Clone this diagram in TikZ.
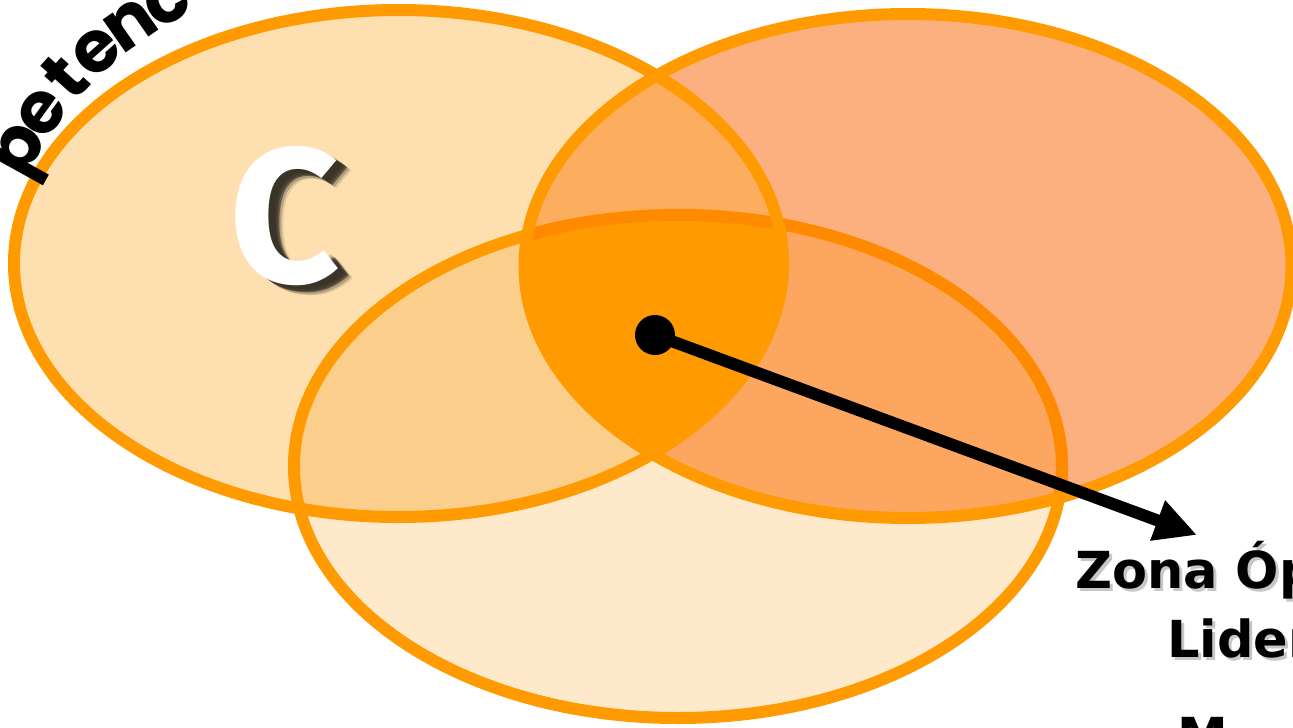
\documentclass[tikz,border=0pt]{standalone}
\usepackage{fontspec}
\usetikzlibrary{arrows.meta}
\newfontfamily\cfont{Fira Sans}
\newfontfamily\lblfont{DejaVu Sans}
\newfontfamily\arcfont{Poppins}
\definecolor{colL}{HTML}{FDDFB0}
\definecolor{colR}{HTML}{FDB07F}
\definecolor{colB}{HTML}{FEE9CB}
\definecolor{colLR}{HTML}{FCAD5E}
\definecolor{colLB}{HTML}{FCCE8C}
\definecolor{colRB}{HTML}{FCA660}
\definecolor{colC}{HTML}{FF9B00}
\definecolor{edge}{HTML}{FF9B00}
\definecolor{edgeDark}{HTML}{FF8A00}
\tikzset{
  ring/.style={draw=edge, line width=12pt},
  lbl/.style={font=\lblfont\bfseries\fontsize{51}{60}\selectfont, inner sep=0pt, anchor=base west},
  arcletter/.style={font=\arcfont\bfseries\fontsize{72}{72}\selectfont, inner sep=0pt, anchor=base},
  bigletter/.style={font=\cfont\bfseries\fontsize{192}{192}\selectfont, inner sep=0pt},
}
\begin{document}
\begin{tikzpicture}[x=1pt,y=-1pt]
\useasboundingbox (0,0) rectangle (1293,728);
\def\ellL{(398.5,263.5) ellipse [x radius=384.5, y radius=253.5]}
\def\ellR{(908,266) ellipse [x radius=383.5, y radius=252]}
\def\ellB{(678,466.5) ellipse [x radius=384, y radius=251.5]}
% base fills
\fill[colL] \ellL;
\fill[colR] \ellR;
\fill[colB] \ellB;
\begin{scope}\clip \ellL; \fill[colLR] \ellR; \end{scope}
\begin{scope}\clip \ellL; \fill[colLB] \ellB; \end{scope}
\begin{scope}\clip \ellR; \fill[colRB] \ellB; \end{scope}
\begin{scope}\clip \ellL; \clip \ellR; \fill[colC] \ellB; \end{scope}
% outlines
\draw[ring] \ellB;
\begin{scope}\clip \ellR; \draw[ring, draw=edgeDark] \ellB; \end{scope}
\draw[ring] \ellL;
\draw[ring] \ellR;
% arc text
\foreach \ch/\ang [count=\i] in {p/151, e/144.2, t/137.9, e/131.6, n/125, c/118.4}{
  \node[arcletter, rotate=\ang-90] (arc\i) at ({344+352*cos(\ang)},{330-352*sin(\ang)}) {\ch};
}
% big C with blurred shadow
\foreach \dx/\dy/\op in {15/10/0.10, 7/4/0.15, 13/9/0.2, 9/6/0.3, 11/7/0.45}{
  \node[bigletter, text=black, opacity=\op] at (285+\dx,216+\dy) {C};
}
\node[bigletter, text=white] (bigC) at (285,216) {C};
% labels with soft shadow
\node[lbl, text=black, opacity=0.22] at (1078,591) {Zona Óptima de};
\node[lbl, text=black, opacity=0.22] at (1170,660) {Liderazgo};
\node[lbl] (zona) at (1075,588) {Zona Óptima de};
\node[lbl] (lider) at (1167,657) {Liderazgo};
\node[lbl] (m3) at (1177,754) {M};
% arrow
\node[circle, fill=black, minimum size=40pt, inner sep=0pt] (dot) at (655,335) {};
\coordinate (tip) at (1197,535);
\draw[line width=12pt, -{Triangle[length=42pt, width=40pt]}] (dot.center) -- (tip);
\end{tikzpicture}
\end{document}
